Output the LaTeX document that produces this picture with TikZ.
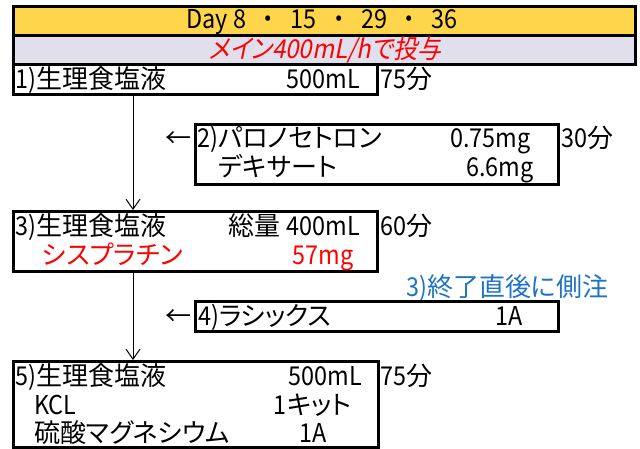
\documentclass[tikz,border=0pt]{standalone}
\usepackage{fontspec}
\setmainfont{Noto Sans CJK JP}[RawFeature=+palt]
\newfontfamily\slantjp{Noto Sans CJK JP}[FakeSlant=0.2, FakeStretch=0.92, RawFeature=+palt]
\newfontfamily\numfont{Noto Sans CJK JP}[FakeStretch=0.9]
\usetikzlibrary{arrows.meta}
\definecolor{daygold}{HTML}{FFD64B}
\definecolor{rowlilac}{HTML}{E2DFEC}
\definecolor{noteblue}{HTML}{1F73C4}
\definecolor{drugred}{HTML}{FF0000}

\tikzset{
  bar/.style={draw=black, line width=3pt, inner sep=0pt, anchor=north west, minimum width=622pt, minimum height=29pt},
  box/.style={draw=black, line width=2.8pt, inner sep=0pt, anchor=north west},
  txt/.style={inner sep=0pt, text height=18pt, text depth=0pt, font=\fontsize{26}{28}\selectfont},
  flow/.style={line width=1pt, -{Straight Barb[length=10pt,width=14pt,line width=1pt]}}
}

\begin{document}
\begin{tikzpicture}[x=1pt,y=-1pt]
\useasboundingbox (0,0) rectangle (640,448);
\coordinate (axis) at (133,0);
% header rows
\node[bar, fill=daygold] (day) at (12,5) {};
\node[bar, fill=rowlilac] (rate) at (12,34) {};
\node[txt] (daytxt) at (322,19) {\numfont Day 8\ \ ・\ \ 15\ \ ・\ \ 29\ \ ・\ \ 36};
\node[txt, text=drugred] (ratetxt) at (325,49) {\slantjp メイン400mL/hで投与};

% step 1
\node[box, minimum width=364pt, minimum height=30pt] (b1) at (12,63) {};
\node[txt, anchor=west] (b1a) at (15,79) {{\numfont 1)}生理食塩液};
\node[txt, anchor=east] (b1b) at (360,79) {\numfont 500mL};
\node[txt, anchor=west] (b1t) at (380,79) {{\numfont 75}分};

% step 2
\node[box, minimum width=363pt, minimum height=60pt] (b2) at (194,123) {};
\node[txt, anchor=east] (a2) at (192,138) {←};
\node[txt, anchor=west] (b2a) at (197,138) {{\numfont 2)}パロノセトロン};
\node[txt, anchor=east] (b2b) at (531,138) {\numfont 0.75mg};
\node[txt, anchor=west] (b2c) at (218,167) {デキサート};
\node[txt, anchor=east] (b2d) at (534,167) {\numfont 6.6mg};
\node[txt, anchor=west] (b2t) at (561,138) {{\numfont 30}分};

% step 3
\node[box, minimum width=364pt, minimum height=60pt] (b3) at (12,210) {};
\node[txt, anchor=west] (b3a) at (15,226) {{\numfont 3)}生理食塩液};
\node[txt, anchor=east] (b3b) at (360,226) {総量 {\numfont 400mL}};
\node[txt, anchor=west, text=drugred] (b3c) at (42,255) {シスプラチン};
\node[txt, anchor=east, text=drugred] (b3d) at (354,255) {\numfont 57mg};
\node[txt, anchor=west] (b3t) at (380,226) {{\numfont 60}分};

% step 4
\node[txt, anchor=west, text=noteblue] (note) at (406,287) {{\numfont 3)}終了直後に側注};
\node[box, minimum width=363pt, minimum height=30pt] (b4) at (194,300) {};
\node[txt, anchor=east] (a4) at (192,316) {←};
\node[txt, anchor=west] (b4a) at (198,316) {{\numfont 4)}ラシックス};
\node[txt, anchor=east] (b4b) at (523,316) {\numfont 1A};

% step 5
\node[box, minimum width=365pt, minimum height=86pt] (b5) at (12,360) {};
\node[txt, anchor=west] (b5a) at (15,376) {{\numfont 5)}生理食塩液};
\node[txt, anchor=east] (b5b) at (362,376) {\numfont 500mL};
\node[txt, anchor=west] (b5c) at (34,405) {\numfont KCL};
\node[txt, anchor=east] (b5d) at (352,405) {{\numfont 1}キット};
\node[txt, anchor=west] (b5e) at (34,433) {硫酸マグネシウム};
\node[txt, anchor=east] (b5f) at (327,433) {\numfont 1A};
\node[txt, anchor=west] (b5t) at (380,376) {{\numfont 75}分};

% flow lines
\draw[flow] (b1.south -| axis) -- (b3.north -| axis);
\draw[flow] (b3.south -| axis) -- (b5.north -| axis);
\end{tikzpicture}
\end{document}
